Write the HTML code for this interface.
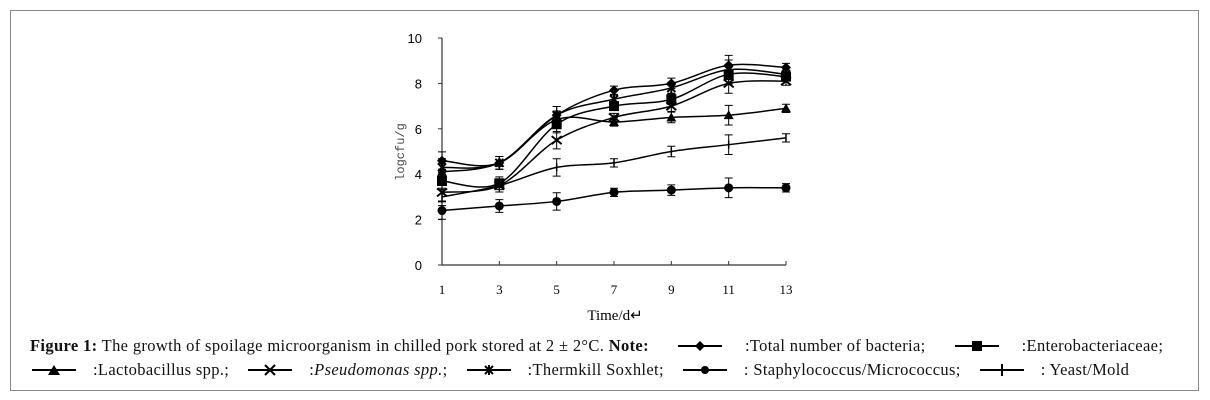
<!DOCTYPE html>
<html><head><meta charset="utf-8"><style>
body{margin:0;background:#fff;width:1210px;height:400px;overflow:hidden;font-family:"Liberation Serif",serif}
#frame{position:absolute;left:10px;top:10px;width:1189px;height:381px;border:1px solid #888;box-sizing:border-box}
.cap{position:absolute;left:30px;font-size:16.5px;color:#111;white-space:nowrap;letter-spacing:0.35px}
.cap b{font-weight:bold}
.cap svg{vertical-align:-1px}
#l1 svg{margin:0 21px 0 27px}
#l2 svg{margin:0 15px 0 17px}
#l2 svg:first-child{margin-left:0}
</style></head><body>
<div id="frame"></div>
<svg id="chart" width="1210" height="330" style="position:absolute;left:0;top:0"></svg>
<div class="cap" id="l1" style="top:336px"><b>Figure 1:</b> The growth of spoilage microorganism in chilled pork stored at 2 ± 2°C. <b>Note:</b><svg width="48" height="12"><line x1="2" y1="6" x2="46" y2="6" stroke="#000" stroke-width="2"/><path d="M24 1 L29 6 L24 11 L19 6Z"/></svg>:Total number of bacteria;<svg width="48" height="12"><line x1="2" y1="6" x2="46" y2="6" stroke="#000" stroke-width="2"/><rect x="19" y="1" width="10" height="10"/></svg>:Enterobacteriaceae;</div>
<div class="cap" id="l2" style="top:360px"><svg width="48" height="12"><line x1="2" y1="6" x2="46" y2="6" stroke="#000" stroke-width="2"/><path d="M24 1 L30 11 L18 11Z"/></svg>:Lactobacillus spp.;<svg width="48" height="12"><line x1="2" y1="6" x2="46" y2="6" stroke="#000" stroke-width="2"/><path d="M19 1 L29 11 M29 1 L19 11" stroke="#000" stroke-width="2"/></svg>:<i>Pseudomonas spp.</i>;<svg width="48" height="12"><line x1="2" y1="6" x2="46" y2="6" stroke="#000" stroke-width="2"/><path d="M20 2 L28 10 M28 2 L20 10 M24 1 L24 11" stroke="#000" stroke-width="2"/></svg>:Thermkill Soxhlet;<svg width="48" height="12"><line x1="2" y1="6" x2="46" y2="6" stroke="#000" stroke-width="2"/><circle cx="24" cy="6" r="4"/></svg>: Staphylococcus/Micrococcus;<svg width="48" height="12"><line x1="2" y1="6" x2="46" y2="6" stroke="#000" stroke-width="2"/><line x1="24" y1="0" x2="24" y2="12" stroke="#000" stroke-width="2"/></svg>: Yeast/Mold</div>
<script>
const days=[1,3,5,7,9,11,13];
const yTicks=[0,2,4,6,8,10];
const totalBacteria=[4.6,4.5,6.6,7.7,8.0,8.8,8.7];
const enterobacteriaceae=[3.7,3.6,6.2,7.0,7.3,8.4,8.3];
const lactobacillus=[4.1,4.5,6.4,6.3,6.5,6.6,6.9];
const pseudomonas=[3.2,3.5,5.5,6.5,7.0,8.0,8.1];
const thermkill=[4.3,4.5,6.6,7.3,7.8,8.6,8.4];
const staphylococcus=[2.4,2.6,2.8,3.2,3.3,3.4,3.4];
const yeastMold=[3.0,3.5,4.3,4.5,5.0,5.3,5.6];
const errYeast=[0.25,0.15,0.25,0.05,0.1,0.3,0.05];
const svg=document.getElementById('chart');const NS='http://www.w3.org/2000/svg';
const X=d=>442+(d-1)*(786-442)/12, Y=v=>265-v*(265-38)/10;
function mk(t,a,p){const e=document.createElementNS(NS,t);for(const k in a)e.setAttribute(k,a[k]);(p||svg).appendChild(e);return e;}
let ax=mk('path',{d:`M${X(1)} ${Y(10)} L${X(1)} ${Y(0)} L${X(13)} ${Y(0)}`,stroke:'#333',fill:'none','stroke-width':1.2});

yTicks.forEach(v=>{mk('line',{x1:X(1)-4,x2:X(1),y1:Y(v),y2:Y(v),stroke:'#333'});
 const t=mk('text',{x:X(1)-20,y:Y(v)+5,'font-size':13,'text-anchor':'end','font-family':'Liberation Sans'});t.textContent=v;
 });
days.forEach(d=>{mk('line',{x1:X(d),x2:X(d),y1:Y(0),y2:Y(0)-4,stroke:'#333'});
 const t=mk('text',{x:X(d),y:294,'font-size':13,'text-anchor':'middle'});t.textContent=d;
 });
let xt=mk('text',{x:615,y:320,'font-size':15,'text-anchor':'middle'});xt.textContent='Time/d↵';

let yt=mk('text',{x:0,y:0,'font-size':12,'text-anchor':'middle','font-family':'Liberation Mono',transform:`translate(404,152) rotate(-90)`,fill:'#444'});yt.textContent='logcfu/g';

function spline(vals){const p=vals.map((v,i)=>[X(days[i]),Y(v)]);let d=`M${p[0][0]} ${p[0][1]}`;
 for(let i=0;i<p.length-1;i++){const p0=p[i-1]||p[i],p1=p[i],p2=p[i+1],p3=p[i+2]||p2;
  d+=` C${p1[0]+(p2[0]-p0[0])/6} ${p1[1]+(p2[1]-p0[1])/6} ${p2[0]-(p3[0]-p1[0])/6} ${p2[1]-(p3[1]-p1[1])/6} ${p2[0]} ${p2[1]}`;}return d;}
function marker(type,x,y,g){if(type==='diamond')mk('path',{d:`M${x} ${y-5}L${x+5} ${y}L${x} ${y+5}L${x-5} ${y}Z`},g);
 else if(type==='square')mk('rect',{x:x-5,y:y-5,width:10,height:10},g);
 else if(type==='tri')mk('path',{d:`M${x} ${y-5}L${x+5} ${y+4}L${x-5} ${y+4}Z`},g);
 else if(type==='x')mk('path',{d:`M${x-5} ${y-4}L${x+5} ${y+4}M${x+5} ${y-4}L${x-5} ${y+4}`,stroke:'#000','stroke-width':2},g);
 else if(type==='star')mk('path',{d:`M${x-4} ${y-4}L${x+4} ${y+4}M${x+4} ${y-4}L${x-4} ${y+4}M${x} ${y-5}L${x} ${y+5}`,stroke:'#000','stroke-width':2},g);
 else if(type==='circle')mk('circle',{cx:x,cy:y,r:4.5},g);
 else if(type==='bar'){mk('line',{x1:x,x2:x,y1:y-4,y2:y+4,stroke:'#000','stroke-width':1.5},g);}}
const series=[['total-bacteria-series',totalBacteria,'diamond'],['enterobacteriaceae-series',enterobacteriaceae,'square'],['lactobacillus-series',lactobacillus,'tri'],['pseudomonas-series',pseudomonas,'x'],['thermkill-series',thermkill,'star'],['staphylococcus-series',staphylococcus,'circle'],['yeast-mold-series',yeastMold,'bar']];
series.forEach(([name,vals,m])=>{const g=mk('g',{});
 mk('path',{d:spline(vals),stroke:'#000',fill:'none','stroke-width':1.5},g);
 vals.forEach((v,i)=>{const x=X(days[i]),y=Y(v),e=errYeast[i]*22.7+3;
  mk('path',{d:`M${x-4} ${y-e}L${x+4} ${y-e}M${x} ${y-e}L${x} ${y+e}M${x-4} ${y+e}L${x+4} ${y+e}`,stroke:'#000','stroke-width':1,fill:'none'},g);
  marker(m,x,y,g);});});
</script>
</body></html>
